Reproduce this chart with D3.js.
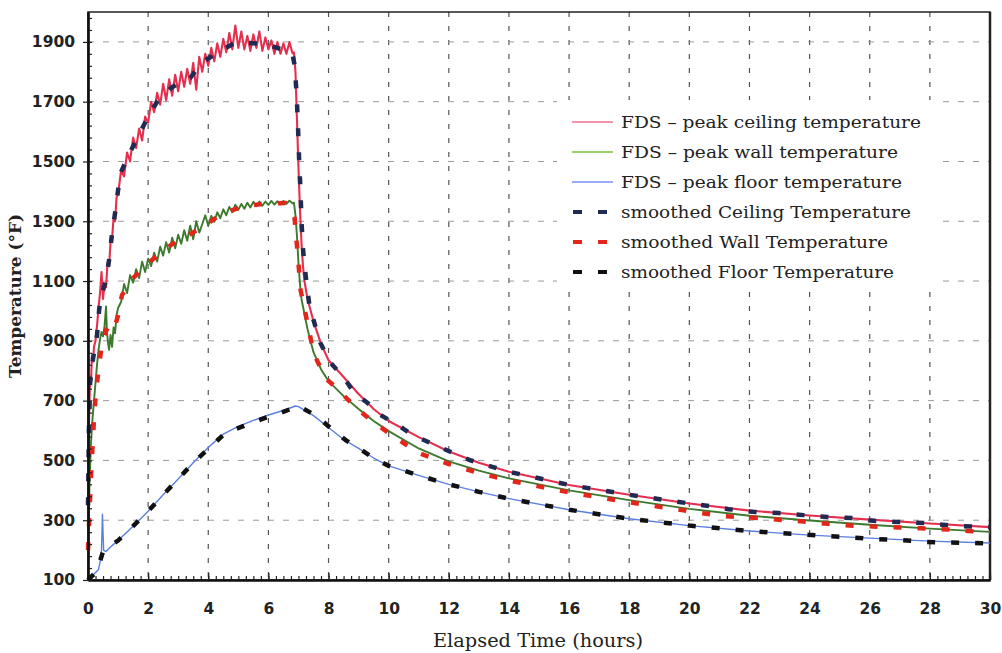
<!DOCTYPE html>
<html>
<head>
<meta charset="utf-8">
<script src="https://cdn.jsdelivr.net/npm/d3@7"></script>
<style>
  html, body { margin: 0; padding: 0; background: #fff; }
  svg { display: block; }
</style>
</head>
<body>
<svg id="chart" width="1002" height="653"></svg>
<script>
// ---- Data (elapsed time in hours, temperature in °F) ----
const ceilingTime = [0, 0.03, 0.07, 0.1, 0.13, 0.17, 0.2, 0.25, 0.3, 0.35, 0.4, 0.45, 0.5, 0.55, 0.6, 0.65, 0.7, 0.75, 0.8, 0.85, 0.9, 0.95,
  1.0, 1.1, 1.2, 1.3, 1.4, 1.5, 1.6, 1.7, 1.8, 1.9, 2.0, 2.1, 2.2, 2.3, 2.4, 2.5, 2.6, 2.7, 2.8, 2.9,
  3.0, 3.1, 3.2, 3.3, 3.4, 3.5, 3.6, 3.7, 3.8, 3.9, 4.0, 4.1, 4.2, 4.3, 4.4, 4.5, 4.6, 4.7, 4.8, 4.9,
  5.0, 5.1, 5.2, 5.3, 5.4, 5.5, 5.6, 5.7, 5.8, 5.9, 6.0, 6.1, 6.2, 6.3, 6.4, 6.5, 6.6, 6.7, 6.8,
  6.85, 6.9, 6.95, 7.0, 7.05, 7.1, 7.15, 7.2, 7.3, 7.4, 7.5, 7.75, 8, 8.5, 9, 9.5, 10, 11, 12, 13, 14, 16, 18, 20, 22, 24, 26, 28, 30];
const ceilingTemp = [250, 620, 780, 760, 850, 830, 880, 900, 950, 1010, 1060, 1130, 1040, 1090, 1080, 1160, 1150, 1230, 1240, 1310, 1300, 1380,
  1390, 1470, 1450, 1530, 1500, 1580, 1545, 1610, 1570, 1650, 1630, 1700, 1665, 1730, 1690, 1760, 1705, 1775, 1720, 1790,
  1735, 1800, 1750, 1810, 1760, 1830, 1740, 1850, 1800, 1860, 1820, 1880, 1835, 1895, 1850, 1910, 1865, 1930, 1875, 1955,
  1880, 1935, 1875, 1920, 1870, 1925, 1880, 1935, 1870, 1915, 1875, 1905, 1860, 1900, 1860, 1895, 1860, 1900, 1862,
  1865, 1800, 1640, 1480, 1340, 1230, 1150, 1100, 1040, 1003, 965, 890, 835, 779, 722, 672, 632, 578, 530, 492, 462, 418, 385, 356, 332, 316, 302, 289, 277];

const wallTime = [0, 0.05, 0.1, 0.15, 0.2, 0.25, 0.3, 0.35, 0.4, 0.45, 0.5, 0.55, 0.6, 0.63, 0.67, 0.7, 0.75, 0.8, 0.85, 0.9, 0.95,
  1.0, 1.1, 1.2, 1.3, 1.4, 1.5, 1.6, 1.7, 1.8, 1.9, 2.0, 2.1, 2.2, 2.3, 2.4, 2.5, 2.6, 2.7, 2.8, 2.9,
  3.0, 3.1, 3.2, 3.3, 3.4, 3.5, 3.6, 3.7, 3.8, 3.9, 4.0, 4.1, 4.2, 4.3, 4.4, 4.5, 4.6, 4.7, 4.8, 4.9,
  5.0, 5.1, 5.2, 5.3, 5.4, 5.5, 5.6, 5.7, 5.8, 5.9, 6.0, 6.1, 6.2, 6.3, 6.4, 6.5, 6.6, 6.7, 6.8,
  6.85, 6.9, 6.95, 7.0, 7.05, 7.1, 7.2, 7.3, 7.4, 7.5, 7.75, 8, 8.5, 9, 9.5, 10, 11, 12, 13, 14, 16, 18, 20, 22, 24, 26, 28, 30];
const wallTemp = [150, 420, 560, 640, 700, 760, 820, 870, 905, 930, 915, 950, 1015, 930, 890, 870, 920, 880, 945, 925, 985,
  1010, 1030, 1090, 1060, 1120, 1095, 1140, 1110, 1165, 1130, 1175, 1150, 1195, 1165, 1215, 1185, 1230, 1195, 1245, 1210,
  1255, 1225, 1270, 1235, 1285, 1240, 1300, 1262, 1290, 1320, 1285, 1318, 1298, 1330, 1310, 1340, 1320, 1348, 1330, 1355,
  1338, 1358, 1342, 1362, 1346, 1365, 1350, 1366, 1352, 1366, 1355, 1368, 1356, 1367, 1357, 1368, 1358, 1369, 1360,
  1362, 1320, 1250, 1160, 1090, 1040, 990, 940, 900, 862, 805, 765, 715, 672, 632, 598, 540, 497, 466, 440, 400, 367, 338, 315, 299, 285, 272, 261];

const floorTime = [0, 0.1, 0.2, 0.3, 0.35, 0.4, 0.45, 0.48, 0.52, 0.6, 0.7, 0.8, 1.0, 1.5, 2, 2.5, 3, 3.5, 4, 4.5, 5, 5.5, 6, 6.5, 6.9, 7.0,
  7.5, 8, 8.5, 9, 9.5, 10, 11, 12, 13, 14, 16, 18, 20, 22, 24, 26, 28, 30];
const floorTemp = [100, 110, 120, 130, 135, 160, 200, 320, 200, 195, 205, 215, 232, 280, 330, 385, 438, 492, 543, 588, 614, 634, 652, 667, 682, 680,
  650, 610, 570, 540, 508, 482, 450, 420, 395, 372, 335, 305, 282, 264, 250, 240, 230, 224];

const smoothCeilingTime = [0, 0.03, 0.07, 0.17, 0.3, 0.37, 0.43, 0.6, 0.7, 0.8, 0.9, 1.0, 1.1, 1.4, 1.8, 2.0, 2.33, 2.8, 3.4, 3.77, 4.27, 4.87, 5.4, 5.9, 6.5, 6.8,
  6.87, 6.93, 6.97, 7.0, 7.03, 7.07, 7.1, 7.15, 7.2, 7.37, 7.73, 8.07, 8.5, 8.83, 9.3, 9.73, 10.3, 10.8, 11.4, 12.07, 12.7, 14, 16, 18, 20, 20.67,
  21.3, 22.1, 22.97, 23.8, 24.6, 25.4, 26.2, 27, 27.9, 28.8, 30];
const smoothCeilingTemp = [350, 600, 759, 842, 919, 1003, 1046, 1103, 1170, 1260, 1327, 1404, 1465, 1531, 1610, 1650, 1705, 1749, 1779, 1829, 1862, 1896, 1896, 1893, 1873, 1860,
  1823, 1739, 1655, 1572, 1482, 1400, 1300, 1210, 1150, 1013, 893, 826, 779, 729, 692, 652, 618, 585, 558, 528, 501, 462, 418, 385, 356, 347,
  337, 328, 324, 317, 311, 307, 297, 294, 290, 281, 277];

const smoothWallTime = [0, 0.1, 0.2, 0.27, 0.37, 0.47, 0.6, 0.83, 1.0, 1.13, 1.5, 1.93, 2.4, 2.9, 3.47, 3.9, 4.33, 5.07, 5.8, 6.57, 6.87,
  7.0, 7.07, 7.23, 7.37, 7.5, 7.9, 8.2, 8.6, 9.0, 9.5, 10, 10.6, 11, 12, 13, 14, 16, 18, 20.4, 21.1, 22, 22.7, 23.6, 24.4, 25.2, 26.1, 27, 27.7, 28.6, 29.4, 30];
const smoothWallTemp = [200, 450, 640, 735, 819, 893, 936, 925, 985, 1053, 1110, 1153, 1194, 1231, 1261, 1287, 1317, 1348, 1358, 1361, 1311,
  1160, 1070, 993, 926, 859, 775, 748, 708, 668, 628, 592, 551, 525, 488, 458, 433, 393, 360, 324, 314, 309, 304, 297, 290, 283, 279, 276, 273, 269, 263, 259];

const smoothFloorTime = [0, 0.3, 0.5, 0.6, 1, 1.5, 2, 2.5, 3, 3.5, 4.07, 4.57, 5.1, 5.8, 6.4, 7.0, 7.6, 8.07, 8.57, 9.0, 9.5, 10, 11, 12, 13, 14, 16, 18, 20,
  22, 22.9, 23.6, 24.5, 25.2, 26.1, 27, 27.9, 29.5, 30];
const smoothFloorTemp = [100, 130, 195, 205, 232, 280, 330, 385, 438, 492, 545, 592, 612, 639, 659, 682, 649, 608, 568, 541, 508, 482, 450, 420, 395, 372, 335, 305, 282,
  264, 257, 254, 247, 244, 237, 234, 227, 224, 222];

const xTickValues = [0, 2, 4, 6, 8, 10, 12, 14, 16, 18, 20, 22, 24, 26, 28, 30];
const yTickValues = [100, 300, 500, 700, 900, 1100, 1300, 1500, 1700, 1900];

const legendLabels = [
  "FDS – peak ceiling temperature",
  "FDS – peak wall temperature",
  "FDS – peak floor temperature",
  "smoothed Ceiling Temperature",
  "smoothed Wall Temperature",
  "smoothed Floor Temperature"
];

// ---- Layout ----
const plot = { left: 88, right: 990, top: 12, bottom: 580 };
const svg = d3.select("#chart");

const x = d3.scaleLinear().domain([0, 30]).range([plot.left, plot.right]);
const y = d3.scaleLinear().domain([100, 2000]).range([plot.bottom, plot.top]);

const zip = (ts, vs) => ts.map((t, i) => [t, vs[i]]);
const line = d3.line().x(d => x(d[0])).y(d => y(d[1]));

// Grid
const grid = svg.append("g").attr("class", "grid");
grid.selectAll("line.v").data(xTickValues.filter(t => t > 0 && t < 30)).join("line")
  .attr("x1", d => x(d)).attr("x2", d => x(d))
  .attr("y1", plot.top).attr("y2", plot.bottom)
  .attr("stroke", "#555").attr("stroke-width", 1.2).attr("stroke-dasharray", "5,9");
grid.selectAll("line.h").data(yTickValues.filter(v => v > 100)).join("line")
  .attr("x1", plot.left).attr("x2", plot.right)
  .attr("y1", d => y(d)).attr("y2", d => y(d))
  .attr("stroke", "#9a9a9a").attr("stroke-width", 1).attr("stroke-dasharray", "6,9");

// Frame
svg.append("rect")
  .attr("x", plot.left).attr("y", plot.top)
  .attr("width", plot.right - plot.left).attr("height", plot.bottom - plot.top)
  .attr("fill", "none").attr("stroke", "#222").attr("stroke-width", 1.5);
svg.append("line").attr("x1", plot.right).attr("x2", plot.right).attr("y1", plot.top).attr("y2", plot.bottom)
  .attr("stroke", "#222").attr("stroke-width", 2.5);

// Legend box (white background over the grid)
const legend = svg.append("g").attr("class", "legend");
legend.append("rect").attr("x", 557).attr("y", 100).attr("width", 378).attr("height", 190).attr("fill", "#fff");

// FDS series
const fdsSeries = [
  { data: zip(ceilingTime, ceilingTemp), color: "#e4304e", width: 2.1 },
  { data: zip(wallTime, wallTemp), color: "#3c7a2e", width: 1.9 },
  { data: zip(floorTime, floorTemp), color: "#5b7fe0", width: 1.4 }
];
svg.append("g").selectAll("path").data(fdsSeries).join("path")
  .attr("d", d => line(d.data))
  .attr("fill", "none").attr("stroke", d => d.color).attr("stroke-width", d => d.width)
  .attr("stroke-linejoin", "round");

// Smoothed series (thick dashes)
const smoothSeries = [
  { data: zip(smoothCeilingTime, smoothCeilingTemp), color: "#1f2b52" },
  { data: zip(smoothWallTime, smoothWallTemp), color: "#e3261c" },
  { data: zip(smoothFloorTime, smoothFloorTemp), color: "#111111" }
];
svg.append("g").selectAll("path").data(smoothSeries).join("path")
  .attr("d", d => line(d.data))
  .attr("fill", "none").attr("stroke", d => d.color).attr("stroke-width", 4.5)
  .attr("stroke-dasharray", "8,16");

// Axes
const xAxis = d3.axisBottom(x).tickValues(xTickValues).tickSizeInner(-7).tickSizeOuter(0).tickPadding(23).tickFormat(d3.format("d"));
const xMinor = d3.axisBottom(x).tickValues(d3.range(0, 30.01, 0.25)).tickSizeInner(-4).tickSizeOuter(0).tickFormat("");
const yAxis = d3.axisLeft(y).tickValues(yTickValues).tickSizeInner(5).tickSizeOuter(0).tickPadding(8).tickFormat(d3.format("d"));
const yMinor = d3.axisLeft(y).tickValues(d3.range(100, 2000.1, 40)).tickSizeInner(-4).tickSizeOuter(0).tickFormat("");

const styleAxis = g => {
  g.select(".domain").attr("stroke", "#111").attr("stroke-width", 2.2);
  g.selectAll(".tick line").attr("stroke", "#222").attr("stroke-width", 1.2);
  g.selectAll(".tick text").attr("fill", "#222")
    .style("font-family", "'DejaVu Sans', sans-serif").style("font-size", "15.5px").style("font-weight", "bold");
};
svg.append("g").attr("transform", `translate(0,${plot.bottom})`).call(xMinor).call(styleAxis);
svg.append("g").attr("transform", `translate(0,${plot.bottom})`).call(xAxis).call(styleAxis);
svg.append("g").attr("transform", `translate(${plot.left},0)`).call(yMinor).call(styleAxis);
svg.append("g").attr("transform", `translate(${plot.left},0)`).call(yAxis).call(styleAxis);

// Axis titles
svg.append("text")
  .attr("x", 538).attr("y", 647).attr("text-anchor", "middle")
  .attr("textLength", 210).attr("lengthAdjust", "spacingAndGlyphs")
  .style("font-family", "'DejaVu Serif', serif").style("font-size", "18px").attr("fill", "#222")
  .text("Elapsed Time (hours)");
svg.append("text")
  .attr("transform", "translate(21,296) rotate(-90)").attr("text-anchor", "middle")
  .attr("textLength", 164).attr("lengthAdjust", "spacingAndGlyphs")
  .style("font-family", "'DejaVu Serif', serif").style("font-size", "17px").style("font-weight", "bold").attr("fill", "#222")
  .text("Temperature (°F)");

// Legend entries
const legendItems = [
  { label: legendLabels[0], color: "#f0708f", kind: "line", w: 300 },
  { label: legendLabels[1], color: "#7cbf3a", kind: "line", w: 277 },
  { label: legendLabels[2], color: "#7d8ff0", kind: "line", w: 281 },
  { label: legendLabels[3], color: "#1f2b52", kind: "dash", w: 290 },
  { label: legendLabels[4], color: "#e3261c", kind: "dash", w: 267 },
  { label: legendLabels[5], color: "#111111", kind: "dash", w: 273 }
];
const legendRowY = [122, 152, 182, 212, 242, 272];
const rows = legend.selectAll("g.row").data(legendItems).join("g")
  .attr("class", "row").attr("transform", (d, i) => `translate(0,${legendRowY[i]})`);
rows.filter(d => d.kind === "line").append("line")
  .attr("x1", 572).attr("x2", 613).attr("y1", 0).attr("y2", 0)
  .attr("stroke", d => d.color).attr("stroke-width", 1.3);
rows.filter(d => d.kind === "dash").append("line")
  .attr("x1", 573).attr("x2", 608).attr("y1", 0).attr("y2", 0)
  .attr("stroke", d => d.color).attr("stroke-width", 4).attr("stroke-dasharray", "9,16");
rows.append("text")
  .attr("x", 621).attr("y", 6)
  .attr("textLength", d => d.w).attr("lengthAdjust", "spacingAndGlyphs")
  .style("font-family", "'DejaVu Serif', serif").style("font-size", "16.5px").attr("fill", "#222")
  .text(d => d.label);
</script>
</body>
</html>
